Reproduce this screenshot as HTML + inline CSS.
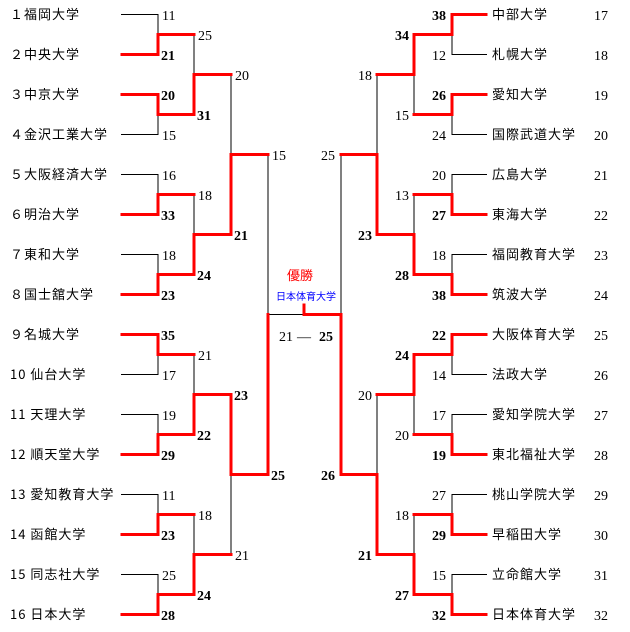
<!DOCTYPE html>
<html><head><meta charset="utf-8"><style>
html,body{margin:0;padding:0;background:#fff;width:630px;height:632px;overflow:hidden}
svg{display:block}
.n{font-family:"Noto Sans CJK JP","Liberation Sans",sans-serif;font-size:13px;letter-spacing:1px;fill:#000}
.s{font-family:"Liberation Serif",serif;font-size:14px;fill:#000}
.b{font-weight:bold}
.e{text-anchor:end}
</style></head><body>
<svg width="630" height="632" viewBox="0 0 630 632">
<g fill="none" stroke="#000" stroke-width="1">
<path d="M121 14.5H158V54.5H121M121 94.5H158V134.5H121M121 174.5H158V214.5H121M121 254.5H158V294.5H121M121 334.5H158V374.5H121M121 414.5H158V454.5H121M121 494.5H158V534.5H121M121 574.5H158V614.5H121"/>
<path d="M194 34.5V114.5M194 194.5V274.5M194 354.5V434.5M194 514.5V594.5M231 74.5V234.5M231 394.5V554.5M268 154.5V474.5M268 314.5H304"/>
<path d="M487 14.5H452V54.5H487M487 94.5H452V134.5H487M487 174.5H452V214.5H487M487 254.5H452V294.5H487M487 334.5H452V374.5H487M487 414.5H452V454.5H487M487 494.5H452V534.5H487M487 574.5H452V614.5H487"/>
<path d="M414 34.5V114.5M414 194.5V274.5M414 354.5V434.5M414 514.5V594.5M377 74.5V234.5M377 394.5V554.5M341 154.5V474.5"/>
</g>
<g fill="none" stroke="#f00" stroke-width="3" stroke-linejoin="miter" stroke-linecap="square">
<path d="M122 54.5H158V34.5H194M122 94.5H158V114.5H194M122 214.5H158V194.5H194M122 294.5H158V274.5H194M122 334.5H158V354.5H194M122 454.5H158V434.5H194M122 534.5H158V514.5H194M122 614.5H158V594.5H194"/>
<path d="M194 114.5V74.5H231M194 274.5V234.5H231M194 434.5V394.5H231M194 594.5V554.5H231M231 234.5V154.5H268M231 394.5V474.5H268M268 474.5V314.5"/>
<path d="M486 14.5H452V34.5H414M486 94.5H452V114.5H414M486 214.5H452V194.5H414M486 294.5H452V274.5H414M486 334.5H452V354.5H414M486 454.5H452V434.5H414M486 534.5H452V514.5H414M486 614.5H452V594.5H414"/>
<path d="M414 34.5V74.5H377M414 274.5V234.5H377M414 354.5V394.5H377M414 594.5V554.5H377M377 234.5V154.5H341M377 554.5V474.5H341M341 474.5V314.5H304V305"/>
</g>
<g class="n">
<text x="10" y="19">１福岡大学</text>
<text x="10" y="59">２中央大学</text>
<text x="10" y="99">３中京大学</text>
<text x="10" y="139">４金沢工業大学</text>
<text x="10" y="179">５大阪経済大学</text>
<text x="10" y="219">６明治大学</text>
<text x="10" y="259">７東和大学</text>
<text x="10" y="299">８国士舘大学</text>
<text x="10" y="339">９名城大学</text>
<text x="10" y="379">10 仙台大学</text>
<text x="10" y="419">11 天理大学</text>
<text x="10" y="459">12 順天堂大学</text>
<text x="10" y="499">13 愛知教育大学</text>
<text x="10" y="539">14 函館大学</text>
<text x="10" y="579">15 同志社大学</text>
<text x="10" y="619">16 日本大学</text>
<text x="492" y="19">中部大学</text>
<text x="492" y="59">札幌大学</text>
<text x="492" y="99">愛知大学</text>
<text x="492" y="139">国際武道大学</text>
<text x="492" y="179">広島大学</text>
<text x="492" y="219">東海大学</text>
<text x="492" y="259">福岡教育大学</text>
<text x="492" y="299">筑波大学</text>
<text x="492" y="339">大阪体育大学</text>
<text x="492" y="379">法政大学</text>
<text x="492" y="419">愛知学院大学</text>
<text x="492" y="459">東北福祉大学</text>
<text x="492" y="499">桃山学院大学</text>
<text x="492" y="539">早稲田大学</text>
<text x="492" y="579">立命館大学</text>
<text x="492" y="619">日本体育大学</text>
</g>
<g class="s">
<text x="594" y="20">17</text><text x="594" y="60">18</text><text x="594" y="100">19</text><text x="594" y="140">20</text>
<text x="594" y="180">21</text><text x="594" y="220">22</text><text x="594" y="260">23</text><text x="594" y="300">24</text>
<text x="594" y="340">25</text><text x="594" y="380">26</text><text x="594" y="420">27</text><text x="594" y="460">28</text>
<text x="594" y="500">29</text><text x="594" y="540">30</text><text x="594" y="580">31</text><text x="594" y="620">32</text>
</g>
<g class="s">
<text x="162" y="20">11</text><text x="161" y="60" class="b">21</text>
<text x="161" y="100" class="b">20</text><text x="162" y="140">15</text>
<text x="162" y="180">16</text><text x="161" y="220" class="b">33</text>
<text x="162" y="260">18</text><text x="161" y="300" class="b">23</text>
<text x="161" y="340" class="b">35</text><text x="162" y="380">17</text>
<text x="162" y="420">19</text><text x="161" y="460" class="b">29</text>
<text x="162" y="500">11</text><text x="161" y="540" class="b">23</text>
<text x="162" y="580">25</text><text x="161" y="620" class="b">28</text>
<text x="198" y="40">25</text><text x="197" y="120" class="b">31</text>
<text x="198" y="200">18</text><text x="197" y="280" class="b">24</text>
<text x="198" y="360">21</text><text x="197" y="440" class="b">22</text>
<text x="198" y="520">18</text><text x="197" y="600" class="b">24</text>
<text x="235" y="80">20</text><text x="234" y="240" class="b">21</text>
<text x="234" y="400" class="b">23</text><text x="235" y="560">21</text>
<text x="272" y="160">15</text><text x="271" y="480" class="b">25</text>
<g class="e">
<text x="446" y="20" class="b">38</text><text x="446" y="60">12</text>
<text x="446" y="100" class="b">26</text><text x="446" y="140">24</text>
<text x="446" y="180">20</text><text x="446" y="220" class="b">27</text>
<text x="446" y="260">18</text><text x="446" y="300" class="b">38</text>
<text x="446" y="340" class="b">22</text><text x="446" y="380">14</text>
<text x="446" y="420">17</text><text x="446" y="460" class="b">19</text>
<text x="446" y="500">27</text><text x="446" y="540" class="b">29</text>
<text x="446" y="580">15</text><text x="446" y="620" class="b">32</text>
<text x="409" y="40" class="b">34</text><text x="409" y="120">15</text>
<text x="409" y="200">13</text><text x="409" y="280" class="b">28</text>
<text x="409" y="360" class="b">24</text><text x="409" y="440">20</text>
<text x="409" y="520">18</text><text x="409" y="600" class="b">27</text>
<text x="372" y="80">18</text><text x="372" y="240" class="b">23</text>
<text x="372" y="400">20</text><text x="372" y="560" class="b">21</text>
<text x="335" y="160">25</text><text x="335" y="480" class="b">26</text>
</g>
<text x="279" y="341">21</text>
<text x="297" y="341">—</text>
<text x="319" y="341" class="b">25</text>
</g>
<text x="287" y="280" style="font-family:'Noto Sans CJK JP',sans-serif;font-size:13px;fill:#f00">優勝</text>
<text x="276" y="300" style="font-family:'Noto Sans CJK JP',sans-serif;font-size:10px;fill:#00f">日本体育大学</text>
</svg>
</body></html>
